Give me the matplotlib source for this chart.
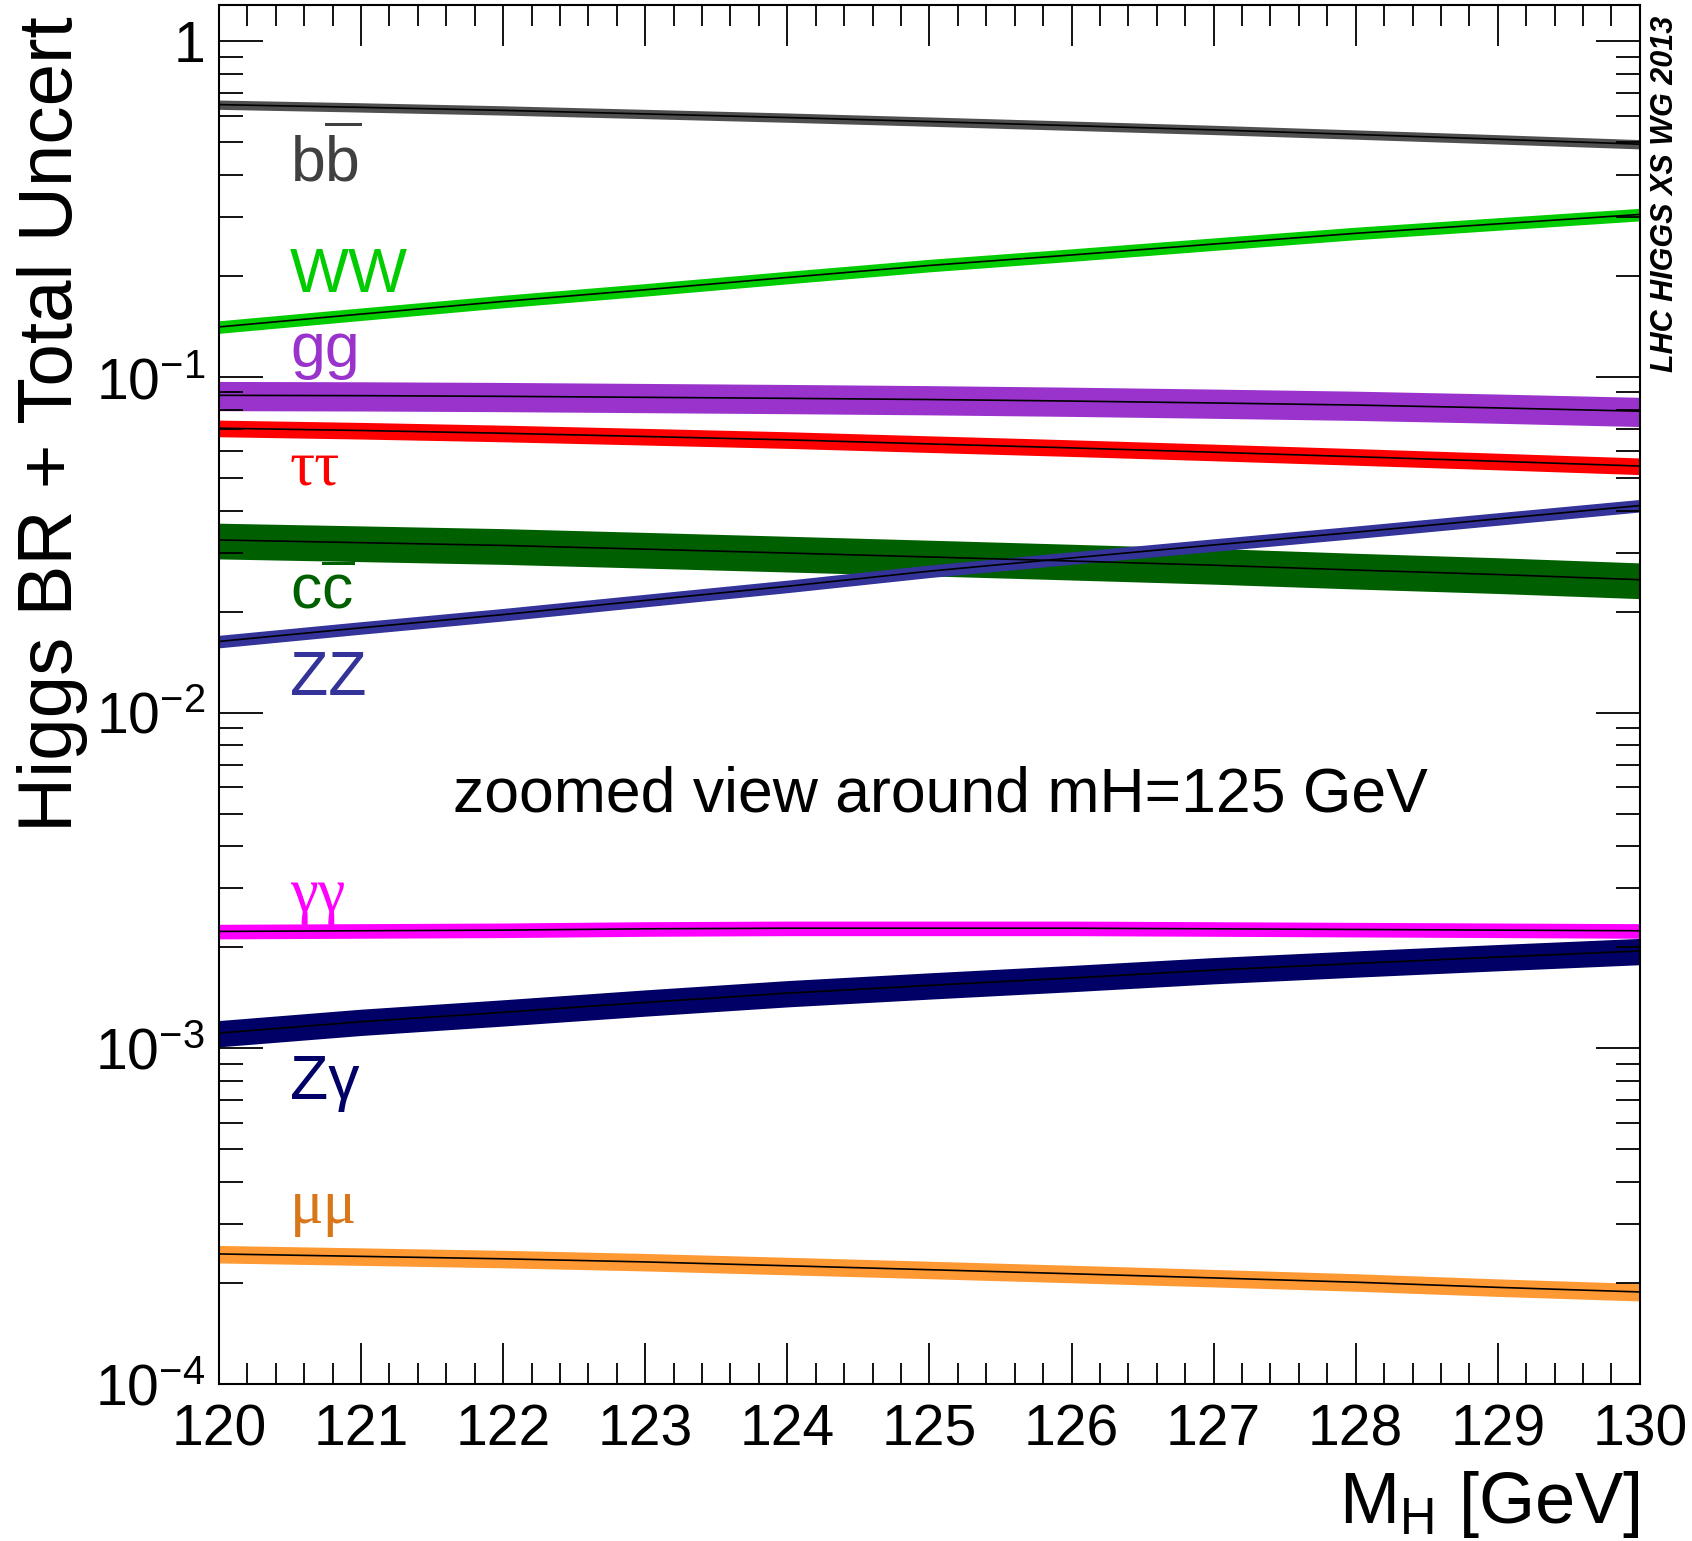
import matplotlib
matplotlib.use("Agg")
import matplotlib.pyplot as plt
import numpy as np

matplotlib.rcParams.update({
    "font.family": ["Liberation Sans", "DejaVu Sans"],
    "mathtext.fontset": "custom",
    "mathtext.rm": "Liberation Sans",
    "mathtext.it": "Liberation Sans:italic",
    "mathtext.bf": "Liberation Sans:bold",
})

# Higgs mass points [GeV]
mass = [120, 121, 122, 123, 124, 125, 126, 127, 128, 129, 130]

# branching ratios (central values)
br_bb = [0.648, 0.636, 0.623, 0.608, 0.593, 0.577, 0.561, 0.545, 0.528, 0.511, 0.494]
br_tautau = [0.0704, 0.0693, 0.0680, 0.0665, 0.0650, 0.0632, 0.0615, 0.0597, 0.0579, 0.0561, 0.0543]
br_mumu = [2.44e-4, 2.40e-4, 2.36e-4, 2.31e-4, 2.25e-4, 2.19e-4, 2.13e-4, 2.07e-4, 2.01e-4, 1.94e-4, 1.88e-4]
br_cc = [0.0327, 0.0321, 0.0315, 0.0307, 0.0299, 0.0291, 0.0283, 0.0275, 0.0266, 0.0258, 0.0249]
br_gg = [0.0882, 0.0880, 0.0876, 0.0870, 0.0864, 0.0857, 0.0848, 0.0837, 0.0825, 0.0809, 0.0791]
br_gamgam = [2.23e-3, 2.24e-3, 2.25e-3, 2.27e-3, 2.28e-3, 2.28e-3, 2.28e-3, 2.27e-3, 2.26e-3, 2.25e-3, 2.24e-3]
br_zgam = [1.11e-3, 1.20e-3, 1.28e-3, 1.37e-3, 1.46e-3, 1.54e-3, 1.62e-3, 1.71e-3, 1.79e-3, 1.87e-3, 1.95e-3]
br_ww = [0.141, 0.154, 0.168, 0.182, 0.198, 0.215, 0.231, 0.249, 0.268, 0.286, 0.305]
br_zz = [0.0163, 0.0179, 0.0196, 0.0216, 0.0238, 0.0264, 0.0289, 0.0316, 0.0345, 0.0378, 0.0414]

# total relative uncertainty (fraction) per channel
unc = {"bb": 0.032, "tautau": 0.057, "mumu": 0.060, "cc": 0.122, "gg": 0.100,
       "gamgam": 0.050, "zgam": 0.090, "ww": 0.043, "zz": 0.043}

channels = [
    ("bb", br_bb, "#505050", "#404040", r"$\mathrm{b\overline{b}}$"),
    ("tautau", br_tautau, "#ff0000", "#ff0000", "ττ"),
    ("mumu", br_mumu, "#ff9933", "#d9761a", "μμ"),
    ("cc", br_cc, "#006000", "#006000", r"$\mathrm{c\overline{c}}$"),
    ("gg", br_gg, "#9933cc", "#9933cc", "gg"),
    ("gamgam", br_gamgam, "#ff00ff", "#ff00ff", "γγ"),
    ("zgam", br_zgam, "#000066", "#000066", "Zγ"),
    ("ww", br_ww, "#00cc00", "#00cc00", "WW"),
    ("zz", br_zz, "#333399", "#333399", "ZZ"),
]

# label anchor heights (data units) next to the left edge
label_y = {"bb": 0.436, "ww": 0.201, "gg": 0.120, "tautau": 0.053, "cc": 0.0228,
           "zz": 0.0126, "gamgam": 2.85e-3, "zgam": 7.9e-4, "mumu": 3.35e-4}
greek = {"tautau", "mumu", "gamgam"}

fig = plt.figure(figsize=(16.92, 15.41), dpi=100)
ax = fig.add_axes([0.1294, 0.1019, 0.8398, 0.8946])

m = np.array(mass)
for key, vals, band_col, txt_col, label in channels:
    v = np.array(vals)
    ax.fill_between(m, v * (1 - unc[key]), v * (1 + unc[key]), color=band_col, lw=0)
    ax.plot(m, v, color="black", lw=1.2)
    if key in greek:
        fam = ["Liberation Serif", "DejaVu Serif"]
    else:
        fam = ["Liberation Sans", "DejaVu Sans"]
    ax.text(120.5, label_y[key], label, color=txt_col, fontsize=45, family=fam,
            ha="left", va="center", zorder=5)

ax.set_yscale("log")
ax.set_xlim(120, 130)
ax.set_ylim(1e-4, 1.28)

ax.set_xticks(range(120, 131))
ax.set_xticklabels([str(v) for v in range(120, 131)])
ax.xaxis.set_minor_locator(matplotlib.ticker.MultipleLocator(0.2))
ax.set_yticks([1e-4, 1e-3, 1e-2, 1e-1, 1])
ax.set_yticklabels([r"10$^{-4}$", r"10$^{-3}$", r"10$^{-2}$", r"10$^{-1}$", "1"])
ax.yaxis.set_minor_locator(matplotlib.ticker.LogLocator(base=10, subs=np.arange(2, 10)))
ax.yaxis.set_minor_formatter(matplotlib.ticker.NullFormatter())

ax.tick_params(axis="both", which="both", direction="in", top=True, right=True, width=1.3, colors="black")
ax.tick_params(axis="x", which="major", length=29.5, labelsize=41, pad=14)
ax.tick_params(axis="x", which="minor", length=15)
ax.tick_params(axis="y", which="major", length=32, labelsize=41, pad=10)
ax.tick_params(axis="y", which="minor", length=17)
for sp in ax.spines.values():
    sp.set_linewidth(1.5)

ax.set_xlabel(r"M$_{\mathrm{H}}$ [GeV]", fontsize=52, loc="right")
ax.xaxis.set_label_coords(1.0, -0.062)
ax.set_ylabel("Higgs BR + Total Uncert", fontsize=55, loc="top")
ax.yaxis.set_label_coords(-0.092, 0.992)

ax.text(0.508, 0.427, "zoomed view around mH=125 GeV", transform=ax.transAxes,
        fontsize=45, ha="center", va="center")

fig.text(0.984, 0.9896, "LHC HIGGS XS WG 2013", rotation=90, fontsize=22,
         fontweight="bold", fontstyle="italic", ha="center", va="top")

fig.savefig("out.png", dpi=100)
